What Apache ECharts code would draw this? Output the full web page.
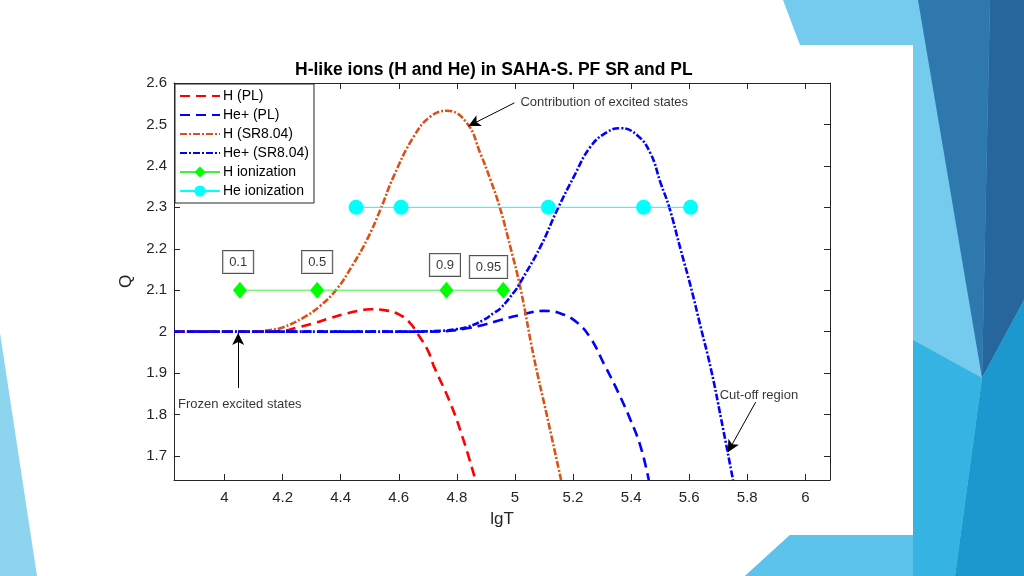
<!DOCTYPE html>
<html>
<head>
<meta charset="utf-8">
<script src="https://cdn.jsdelivr.net/npm/echarts@6.0.0/dist/echarts.min.js"></script>
<style>
  html, body { margin: 0; padding: 0; background: #fff; }
  #chart { width: 1024px; height: 576px; }
</style>
</head>
<body>
<div id="chart"></div>
<script>
// values: [lgT, Q]
var hPL = [
  [3.826, 2.0], [4.1, 2.0], [4.2, 2.002], [4.25, 2.01], [4.306, 2.02], [4.36, 2.032],
  [4.41, 2.042], [4.46, 2.05], [4.502, 2.054], [4.55, 2.052], [4.605, 2.04], [4.64, 2.02],
  [4.663, 1.997], [4.7, 1.955], [4.72, 1.918], [4.778, 1.827], [4.823, 1.738], [4.864, 1.642]
];
var hePL = [
  [3.826, 2.0], [4.7, 2.0], [4.778, 2.002], [4.835, 2.008], [4.9, 2.018], [4.95, 2.028],
  [5.019, 2.04], [5.099, 2.05], [5.157, 2.044], [5.214, 2.022], [5.26, 1.985], [5.306, 1.923],
  [5.352, 1.859], [5.398, 1.787], [5.433, 1.722], [5.461, 1.642]
];
var hSR = [
  [3.826, 2.0], [4.1, 2.0], [4.157, 2.004], [4.2, 2.01], [4.272, 2.034], [4.329, 2.062],
  [4.387, 2.103], [4.438, 2.157], [4.49, 2.221], [4.536, 2.293], [4.582, 2.374], [4.651, 2.47],
  [4.709, 2.519], [4.766, 2.533], [4.835, 2.503], [4.881, 2.43], [4.916, 2.366], [4.948, 2.3],
  [4.984, 2.205], [5.019, 2.105], [5.065, 1.939], [5.111, 1.795], [5.159, 1.642]
];
var heSR = [
  [3.826, 2.0], [4.6, 2.0], [4.75, 2.002], [4.8, 2.006], [4.835, 2.011], [4.892, 2.028],
  [4.927, 2.045], [4.95, 2.056], [5.002, 2.1], [5.013, 2.112], [5.088, 2.205], [5.145, 2.293],
  [5.203, 2.374], [5.26, 2.446], [5.318, 2.482], [5.364, 2.491], [5.421, 2.474], [5.467, 2.43],
  [5.502, 2.358], [5.531, 2.301], [5.571, 2.197], [5.605, 2.11], [5.64, 2.01], [5.675, 1.91],
  [5.71, 1.79], [5.751, 1.642]
];
var hIonX = [4.053, 4.319, 4.764, 4.96];
var hIonQ = 2.1;
var heIonX = [4.453, 4.608, 5.115, 5.443, 5.605];
var heIonQ = 2.3;
var fracLabels = [[4.047, 2.168, '0.1'], [4.319, 2.168, '0.5'], [4.759, 2.161, '0.9'], [4.909, 2.156, '0.95']];
var notes = [[5.019, 2.552, 'Contribution of excited states'], [3.84, 1.825, 'Frozen excited states'], [5.705, 1.845, 'Cut-off region']];
var arrows = [
  [[4.998, 2.552], [4.84, 2.496]],
  [[4.047, 1.864], [4.047, 1.997]],
  [[5.829, 1.83], [5.733, 1.709]]
];
var xTicks = [4, 4.2, 4.4, 4.6, 4.8, 5, 5.2, 5.4, 5.6, 5.8, 6];
var yTicks = [1.7, 1.8, 1.9, 2, 2.1, 2.2, 2.3, 2.4, 2.5, 2.6];

var chart = echarts.init(document.getElementById('chart'));
var axisColor = '#262626';
var font = 'Liberation Sans, Arial, sans-serif';

function xAxisOf(pos, labels) {
  return {
    type: 'value', position: pos, min: 3.826, max: 6.085,
    axisLine: { show: true, onZero: false, lineStyle: { color: axisColor, width: 1 } },
    axisTick: { show: true, inside: true, length: 6, customValues: xTicks, lineStyle: { color: axisColor } },
    axisLabel: { show: labels, customValues: xTicks, margin: 10, color: axisColor, fontSize: 15, fontFamily: font },
    splitLine: { show: false }
  };
}
function yAxisOf(pos, labels) {
  return {
    type: 'value', position: pos, min: 1.642, max: 2.6,
    axisLine: { show: true, onZero: false, lineStyle: { color: axisColor, width: 1 } },
    axisTick: { show: true, inside: true, length: 6, customValues: yTicks, lineStyle: { color: axisColor } },
    axisLabel: { show: labels, customValues: yTicks, margin: 7, color: axisColor, fontSize: 15, fontFamily: font },
    splitLine: { show: false }
  };
}

var xBottom = xAxisOf('bottom', true);
xBottom.name = 'lgT';
xBottom.nameLocation = 'middle';
xBottom.nameGap = 31;
xBottom.nameTextStyle = { color: axisColor, fontSize: 17, fontFamily: font };
var yLeft = yAxisOf('left', true);
yLeft.name = 'Q';
yLeft.nameLocation = 'middle';
yLeft.nameGap = 32;
yLeft.nameTextStyle = { color: axisColor, fontSize: 17, fontFamily: font };

function curve(name, data, color, dash) {
  return {
    name: name, type: 'line', data: data, xAxisIndex: 0, yAxisIndex: 0,
    showSymbol: false, symbol: 'none', smooth: 0.45,
    lineStyle: { color: color, width: 2.6, type: dash, cap: 'butt' },
    itemStyle: { color: color }
  };
}
function lineOnly(name) {
  return { name: name, itemStyle: { opacity: 0 } };
}

chart.setOption({
  animation: false,
  backgroundColor: '#fff',
  title: {
    text: 'H-like ions (H and He) in SAHA-S. PF SR and PL',
    left: 290, top: 56,
    textStyle: { color: '#000', fontSize: 17.5, fontWeight: 'bold', fontFamily: font }
  },
  graphic: { elements: [
    { type: 'polygon', z: -10, shape: { points: [[783, 0], [1024, 0], [1024, 576], [745, 576], [790, 535], [913, 535], [913, 45], [800, 45]] }, style: { fill: '#74cbed' } },
    { type: 'polygon', z: -9, shape: { points: [[918, 0], [990, 0], [982, 378]] }, style: { fill: '#2f78ad' } },
    { type: 'polygon', z: -9, shape: { points: [[990, 0], [1024, 0], [1024, 300], [982, 378]] }, style: { fill: '#27659d' } },
    { type: 'polygon', z: -9, shape: { points: [[982, 378], [1024, 300], [1024, 576], [955, 576]] }, style: { fill: '#1c98cf' } },
    { type: 'polygon', z: -9, shape: { points: [[913, 340], [982, 378], [955, 576], [913, 576]] }, style: { fill: '#35b3e3' } },
    { type: 'polygon', z: -9, shape: { points: [[745, 576], [790, 535], [913, 535], [913, 576]] }, style: { fill: '#5cc4eb' } },
    { type: 'polygon', z: -9, shape: { points: [[0, 333], [0, 576], [37, 576]] }, style: { fill: '#8dd5ef' } }
  ] },
  grid: { left: 174, right: 194, top: 83, bottom: 96, containLabel: false },
  legend: {
    orient: 'vertical', left: 175, top: 84,
    data: [lineOnly('H (PL)'), lineOnly('He+ (PL)'), lineOnly('H (SR8.04)'), lineOnly('He+ (SR8.04)'), 'H ionization', 'He ionization'],
    itemWidth: 40, itemHeight: 14, itemGap: 5,
    padding: [5, 5, 5, 4],
    backgroundColor: '#fff', borderColor: axisColor, borderWidth: 1, borderRadius: 0,
    textStyle: { color: '#000', fontSize: 14, fontFamily: font, padding: [0, 0, 0, -2] }
  },
  xAxis: [xBottom, xAxisOf('top', false)],
  yAxis: [yLeft, yAxisOf('right', false)],
  series: [
    curve('H (PL)', hPL, '#ff0000', [10, 6]),
    curve('He+ (PL)', hePL, '#0000ff', [10, 6]),
    curve('H (SR8.04)', hSR, '#d95319', [7, 2, 2, 2]),
    curve('He+ (SR8.04)', heSR, '#0000ff', [7, 2, 2, 2]),
    {
      name: 'H ionization', type: 'line', xAxisIndex: 0, yAxisIndex: 0,
      data: hIonX.map(function (x) { return [x, hIonQ]; }),
      symbol: 'diamond', symbolSize: [14, 17], showSymbol: true,
      lineStyle: { color: '#44ee44', width: 1 },
      itemStyle: { color: '#00ff00' }, z: 3
    },
    {
      name: 'He ionization', type: 'line', xAxisIndex: 0, yAxisIndex: 0,
      data: heIonX.map(function (x) { return [x, heIonQ]; }),
      symbol: 'circle', symbolSize: 15, showSymbol: true,
      lineStyle: { color: '#00ffff', width: 1 },
      itemStyle: { color: '#00ffff' }, z: 3
    },
    {
      name: 'fractions', type: 'scatter', xAxisIndex: 0, yAxisIndex: 0,
      data: fracLabels, symbolSize: 0, silent: true, z: 5,
      label: {
        show: true, position: 'inside',
        formatter: function (p) { return p.data[2]; },
        color: '#000', fontSize: 13, fontFamily: font,
        backgroundColor: '#fff', borderColor: axisColor, borderWidth: 1,
        padding: [5, 6, 4, 6]
      }
    },
    {
      name: 'notes', type: 'scatter', xAxisIndex: 0, yAxisIndex: 0,
      data: notes, symbolSize: 0, silent: true, z: 5,
      label: {
        show: true, position: 'right', distance: 0,
        formatter: function (p) { return p.data[2]; },
        color: '#000', fontSize: 13, fontFamily: font
      },
      markLine: {
        silent: true, symbol: ['none', 'arrow'], symbolSize: [9, 12],
        label: { show: false },
        lineStyle: { color: '#000', width: 1, type: 'solid' },
        data: arrows.map(function (a) { return [{ coord: a[0] }, { coord: a[1] }]; })
      }
    }
  ]
});
</script>
</body>
</html>
